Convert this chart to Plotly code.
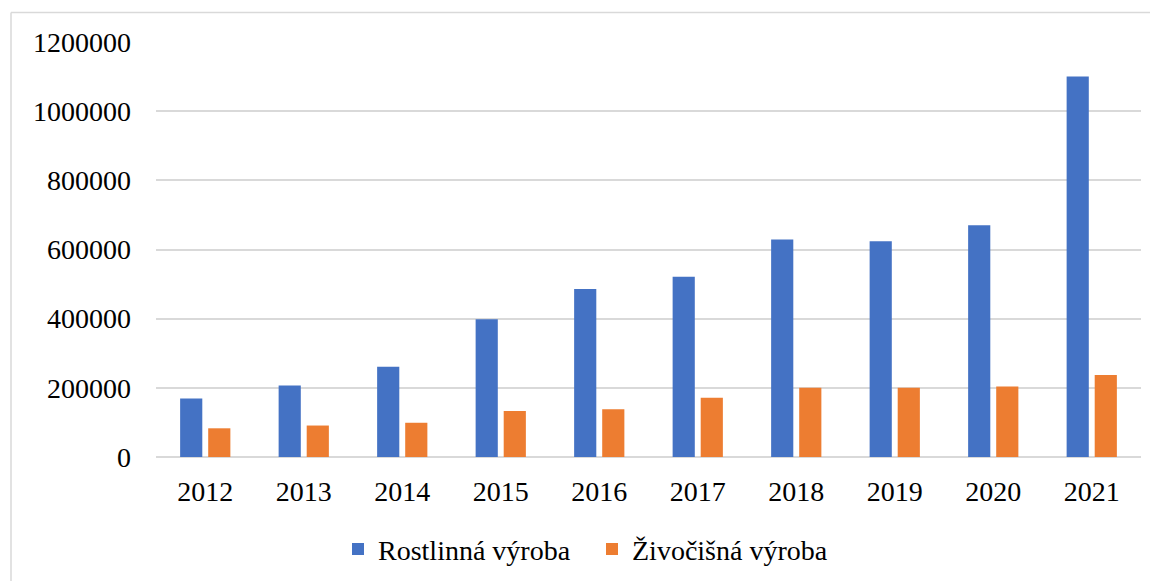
import plotly.graph_objects as go

# data
years = ["2012", "2013", "2014", "2015", "2016", "2017", "2018", "2019", "2020", "2021"]
rostlinna = [169000, 207000, 261000, 398000, 486000, 521000, 629000, 624000, 670000, 1100000]
zivocisna = [83000, 91000, 99000, 133000, 138000, 171000, 200000, 200000, 204000, 237000]
y_ticks = [0, 200000, 400000, 600000, 800000, 1000000, 1200000]

# the page body shifts the figure by 8px, so positions below are corrected for it
OFF = 8
W, H = 1158, 581
left, right, top, bottom = 156 - OFF, 17 + OFF, 41.5 - OFF, 124.3 + OFF
plot_w = W - left - right
plot_h = H - top - bottom

def px_x(x):
    # window pixel -> paper x
    return (x - OFF - left) / plot_w

def px_y(y):
    # window pixel -> paper y
    return (H - bottom - (y - OFF)) / plot_h

fig = go.Figure()
fig.add_trace(go.Bar(x=years, y=rostlinna, name="Rostlinná výroba",
                     marker=dict(color="#4472C4", line=dict(width=0))))
fig.add_trace(go.Bar(x=years, y=zivocisna, name="Živočišná výroba",
                     marker=dict(color="#ED7D31", line=dict(width=0))))

# light grey frame around the chart (top and left edges visible)
fig.add_shape(type="line", xref="paper", yref="paper",
              x0=px_x(11), x1=px_x(1170), y0=px_y(12), y1=px_y(12),
              line=dict(color="#d9d9d9", width=1.5))
fig.add_shape(type="line", xref="paper", yref="paper",
              x0=px_x(11), x1=px_x(11), y0=px_y(12), y1=px_y(600),
              line=dict(color="#d9d9d9", width=1.5))

fig.update_layout(
    width=W, height=H,
    margin=dict(l=left, r=right, t=top, b=bottom, pad=0, autoexpand=False),
    barmode="group",
    bargap=0.43,
    bargroupgap=0.21,
    plot_bgcolor="white",
    paper_bgcolor="white",
    font=dict(family="Liberation Serif", size=28, color="black"),
    showlegend=True,
    legend=dict(orientation="h", x=px_x(338), xanchor="left",
                y=px_y(549), yanchor="middle",
                font=dict(size=28), entrywidth=209, entrywidthmode="pixels",
                tracegroupgap=0),
    xaxis=dict(showgrid=False, showline=False, ticks="",
               tickfont=dict(size=28), ticklabelstandoff=15),
    yaxis=dict(range=[0, 1200000], tickvals=y_ticks,
               ticktext=[str(v) for v in y_ticks],
               showgrid=True, gridcolor="#d9d9d9", gridwidth=1.5,
               zeroline=True, zerolinecolor="#d9d9d9", zerolinewidth=1.5,
               showline=False, ticks="", ticklabelstandoff=24,
               tickfont=dict(size=28)),
)

fig.write_html("out.html")
